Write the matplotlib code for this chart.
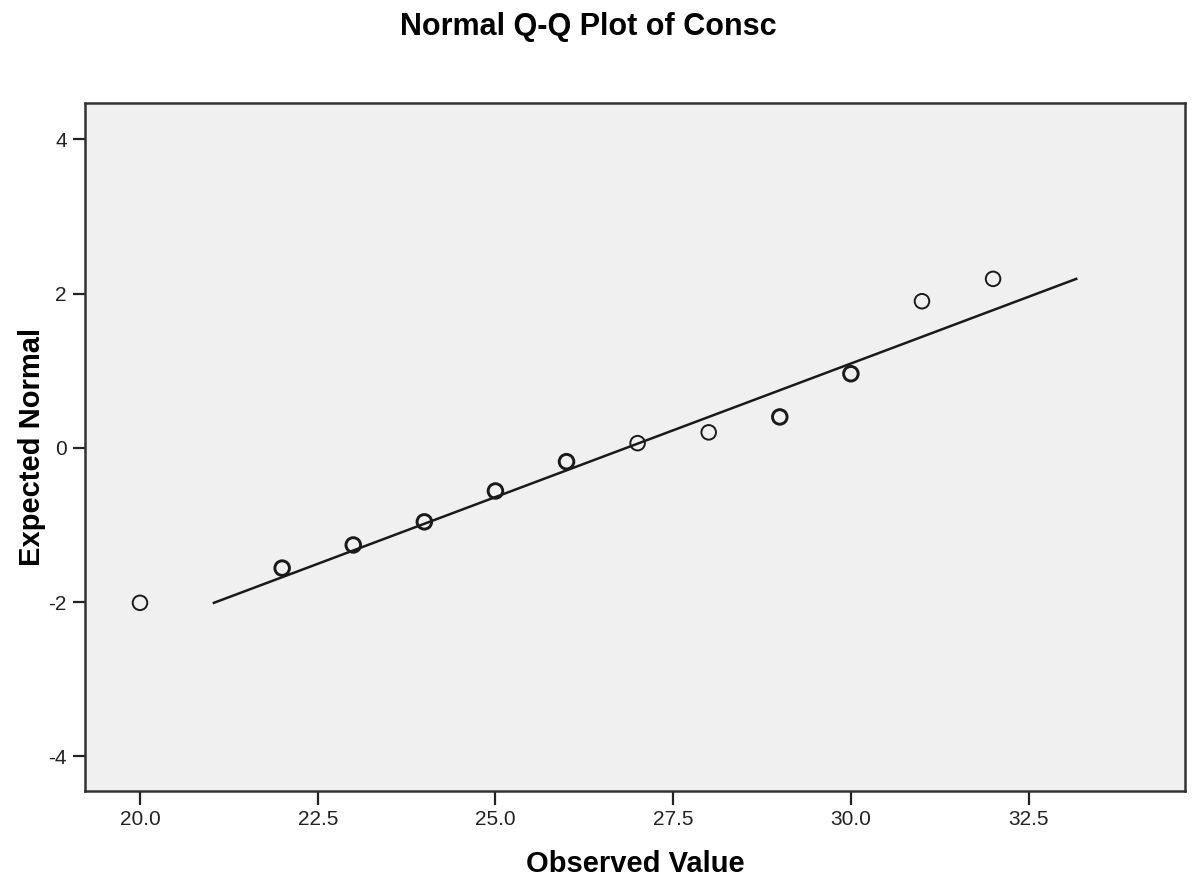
import matplotlib
matplotlib.use("Agg")
import matplotlib.pyplot as plt
from matplotlib.ticker import FuncFormatter

plt.rcParams['font.family'] = ['Liberation Sans', 'DejaVu Sans']

observed = [20, 22, 23, 24, 25, 26, 27, 28, 29, 30, 31, 32]
expected = [-2.01, -1.56, -1.26, -0.96, -0.56, -0.18, 0.06, 0.20, 0.40, 0.96, 1.90, 2.19]
counts = [1, 2, 2, 2, 2, 2, 1, 1, 2, 2, 1, 1]

# reference line endpoints
line_x = [21.04, 33.17]
line_y = [-2.01, 2.19]

xticks = [20.0, 22.5, 25.0, 27.5, 30.0, 32.5]
yticks = [-4, -2, 0, 2, 4]

fig = plt.figure(figsize=(12, 8.85), dpi=100)
ax = fig.add_axes([0.0708, 0.1062, 0.9167, 0.7774])
ax.set_facecolor('#f0f0f0')

ax.plot(line_x, line_y, color='#1a1a1a', lw=1.8, zorder=2)
for x, y, c in zip(observed, expected, counts):
    ax.scatter(x, y, s=110, facecolors='none', edgecolors='#1a1a1a',
               linewidths=1.4 if c == 1 else 2.1, zorder=3)

ax.set_xlim(19.226, 34.70)
ax.set_ylim(-4.45, 4.47)
ax.set_xticks(xticks)
ax.set_xticklabels([f"{t:.1f}" for t in xticks])
ax.set_yticks(yticks)
ax.yaxis.set_major_formatter(FuncFormatter(lambda v, p: f"{v:g}"))
ax.tick_params(direction='out', length=10, width=1.6, labelsize=15, colors='#222222', pad=4)
ax.tick_params(axis='y', length=9)
for sp in ax.spines.values():
    sp.set_linewidth(1.8)
    sp.set_color('#333333')

ax.set_xlabel('Observed Value', fontsize=21, fontweight='bold', labelpad=15)
ax.set_ylabel('Expected Normal', fontsize=21, fontweight='bold', labelpad=2)
fig.suptitle('Normal Q-Q Plot of Consc', fontsize=22, fontweight='bold', x=0.49, y=0.987)

fig.savefig('out.png', dpi=100)
